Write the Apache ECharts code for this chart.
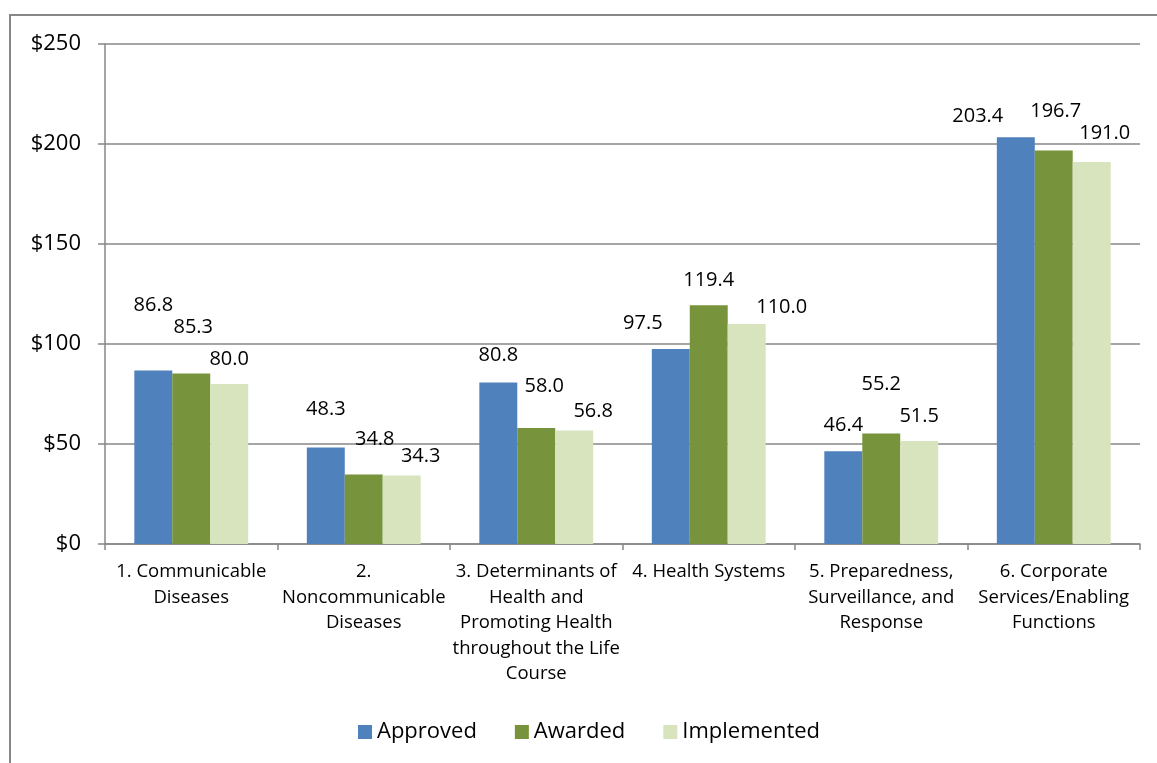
<!DOCTYPE html>
<html>
<head>
<meta charset="utf-8">
<script src="https://cdn.jsdelivr.net/npm/echarts@6/dist/echarts.min.js"></script>
<style>
  html, body { margin: 0; padding: 0; background: #fff; }
  #chart { width: 1157px; height: 763px; }
</style>
</head>
<body>
<div id="chart"></div>
<script>
// Budget by category (US$ millions)
const categories = [
  "1. Communicable\nDiseases",
  "2.\nNoncommunicable\nDiseases",
  "3. Determinants of\nHealth and\nPromoting Health\nthroughout the Life\nCourse",
  "4. Health Systems",
  "5. Preparedness,\nSurveillance, and\nResponse",
  "6. Corporate\nServices/Enabling\nFunctions"
];
const approved    = [86.8, 48.3, 80.8, 97.5, 46.4, 203.4];
const awarded     = [85.3, 34.8, 58.0, 119.4, 55.2, 196.7];
const implemented = [80.0, 34.3, 56.8, 110.0, 51.5, 191.0];
const seriesNames = ["Approved", "Awarded", "Implemented"];
const yTicks = [0, 50, 100, 150, 200, 250];

// Hand-placed value label nudges [dx, dy] per bar
const labelNudge = [
  [[0, -51], [0, -24], [0, -13], [-28, -12], [0, -12], [-38, -7]],
  [[2, -32], [11, -21], [8, -28], [0, -11], [0, -35], [2, -25]],
  [[0, -11], [19, -5], [19, -5], [35, -3], [0, -11], [13, -15]]
];

const FONT = '"Open Sans", "Noto Sans", sans-serif';
const GRID_COLOR = '#878787';
const colors = ['#4F81BD', '#77933C', '#D7E4BD'];
const seriesData = [approved, awarded, implemented];

const chart = echarts.init(document.getElementById('chart'), null, { renderer: 'canvas' });

const series = seriesNames.map((name, si) => ({
  name: name,
  type: 'bar',
  barGap: 0,
  barCategoryGap: '34%',
  itemStyle: { color: colors[si] },
  label: {
    show: true,
    position: 'top',
    distance: 4,
    color: '#000',
    fontFamily: FONT,
    fontSize: 20,
    formatter: p => p.value.toFixed(1)
  },
  data: seriesData[si].map((v, i) => ({
    value: v,
    label: { offset: labelNudge[si][i] }
  }))
}));

chart.setOption({
  animation: false,
  color: colors,
  graphic: [{
    type: 'rect',
    shape: { x: 10, y: 15, width: 1220, height: 820 },
    style: { fill: 'none', stroke: GRID_COLOR, lineWidth: 2 },
    z: -1
  }],
  grid: { left: 105, right: 17, top: 44, bottom: 219 },
  legend: {
    left: 353,
    top: 716,
    itemWidth: 14,
    itemHeight: 14,
    itemGap: 38,
    icon: 'rect',
    textStyle: { fontFamily: FONT, fontSize: 22, color: '#000' },
    data: seriesNames
  },
  xAxis: {
    type: 'category',
    data: categories,
    axisLine: { lineStyle: { color: GRID_COLOR, width: 1.5 } },
    axisTick: { show: true, length: 6, lineStyle: { color: GRID_COLOR, width: 1.5 } },
    axisLabel: {
      interval: 0,
      margin: 15,
      color: '#000',
      fontFamily: FONT,
      fontSize: 18.5,
      lineHeight: 25.5
    }
  },
  yAxis: {
    type: 'value',
    min: yTicks[0],
    max: yTicks[yTicks.length - 1],
    interval: yTicks[1] - yTicks[0],
    axisLine: { show: true, lineStyle: { color: GRID_COLOR, width: 1.5 } },
    axisTick: { show: true, length: 7, lineStyle: { color: GRID_COLOR, width: 1.5 } },
    splitLine: { lineStyle: { color: GRID_COLOR, width: 1.5 } },
    axisLabel: {
      margin: 24,
      color: '#000',
      fontFamily: FONT,
      fontSize: 22,
      formatter: v => '$' + v
    }
  },
  series: series
});
</script>
</body>
</html>
